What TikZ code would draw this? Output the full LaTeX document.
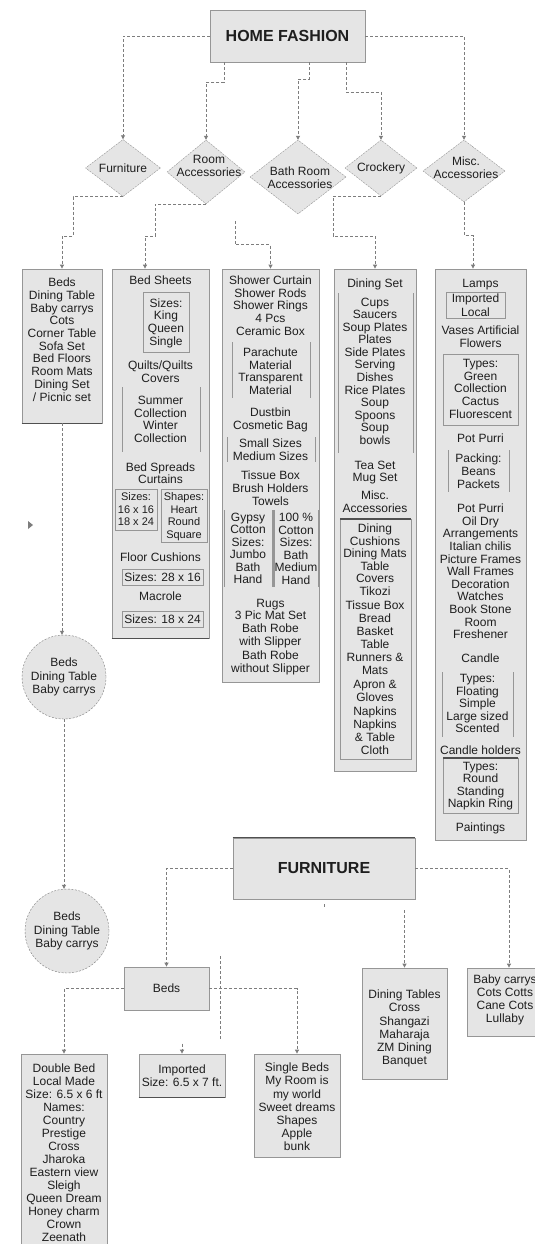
\documentclass[tikz,border=0pt]{standalone}
\usepackage{fontspec}
\setmainfont{Liberation Sans}
\usetikzlibrary{arrows.meta,calc,positioning,shapes.geometric}
\definecolor{BoxGray}{RGB}{229,229,229}
\definecolor{EdgeGray}{RGB}{150,150,150}
\definecolor{DashGray}{RGB}{125,125,125}
\definecolor{InkGray}{RGB}{30,30,30}
\definecolor{RimGray}{RGB}{80,80,80}

\begin{document}
\begin{tikzpicture}[x=1pt, y=-1pt,
    panel/.style={draw=EdgeGray, fill=BoxGray, line width=0.8pt, inner sep=0pt},
    dia/.style={diamond, draw=EdgeGray, fill=BoxGray, dash pattern=on 2pt off 1pt, inner sep=0pt},
    orb/.style={circle, draw=DashGray, fill=BoxGray, dash pattern=on 2pt off 1.5pt, inner sep=0pt, minimum size=84pt},
    ln/.style={font=\fontsize{12}{12}\selectfont, text=InkGray, text height=8.6pt, text depth=0pt, inner sep=0pt},
    lnsm/.style={ln, font=\fontsize{11}{11}\selectfont, text height=7.9pt},
    head/.style={font=\bfseries\fontsize{16}{16}\selectfont, text=InkGray, inner sep=0pt},
    blk/.style={font=\fontsize{12}{13.2}\selectfont, text=InkGray, align=center, inner sep=0pt},
    link/.style={draw=DashGray, line width=0.8pt, dash pattern=on 3pt off 2pt, -{Triangle[length=4pt,width=4pt]}},
    frame/.style={draw=EdgeGray, line width=0.7pt},
    rim/.style={draw=RimGray, line width=1.4pt}]
    \useasboundingbox (0,0) rectangle (535,1244);
    \fill[white] (0,0) rectangle (535,1244);

    % Top box and categories
    \node[panel, head, minimum width=155pt, minimum height=52pt] (home) at (287.5,36) {HOME FASHION};
    \node[dia, minimum width=75pt, minimum height=57pt] (dFurn) at (123,168) {};
    \node[dia, minimum width=78pt, minimum height=64pt] (dRoom) at (206,172) {};
    \node[dia, minimum width=96pt, minimum height=74pt] (dBath) at (298,177) {};
    \node[dia, minimum width=72pt, minimum height=56pt] (dCrock) at (381,168) {};
    \node[dia, minimum width=82pt, minimum height=62pt] (dMisc) at (464,171) {};
    \node[ln] (tFurn) at (dFurn) {Furniture};
    \node[blk, font=\fontsize{12}{13}\selectfont] (tRoom) at (209,166) {Room\\Accessories};
    \node[blk, font=\fontsize{12}{13}\selectfont] (tBath) at (300,178) {Bath Room\\Accessories};
    \node[ln] (tCrock) at (381,167) {Crockery};
    \node[blk, font=\fontsize{12}{13}\selectfont] (tMisc) at (466,168) {Misc.\\Accessories};

    \draw[link] (home.west) -| (dFurn.north);
    \draw[link] (home.east) -| (dMisc.north);
    \draw[link] ([xshift=-63.5pt]home.south) |- ([yshift=57pt]dRoom.north) -- (dRoom.north);
    \draw[link] ([xshift=21.5pt]home.south) |- ([yshift=60pt]dBath.north) -- (dBath.north);
    \draw[link] ([xshift=58.5pt]home.south) |- ([yshift=47pt]dCrock.north) -- (dCrock.north);

    % Item columns
    \node[panel, minimum width=80pt, minimum height=154pt] (colA) at (62,346) {};
    \node[panel, minimum width=97pt, minimum height=369pt] (colB) at (160.5,453.5) {};
    \node[panel, minimum width=97pt, minimum height=413pt] (colC) at (270.5,475.5) {};
    \node[panel, minimum width=82pt, minimum height=502pt] (colD) at (375,520) {};
    \node[panel, minimum width=91pt, minimum height=571pt] (colE) at (480.5,554.5) {};
    \draw[rim] (colA.south west) -- (colA.south east);
    \draw[rim] (colB.south west) -- (colB.south east);

    \draw[link] (dFurn.south) -| (73,236) -| (colA.north);
    \draw[link] (dRoom.south) -| (155,236) -| ([xshift=-15.5pt]colB.north);
    \coordinate (bathgap) at (235,221);
    \draw[link] (bathgap) |- ([yshift=24pt]colC.north) -- (colC.north);
    \draw[link] (dCrock.south) -| (333,236) -| (colD.north);
    \draw[link] (dMisc.south) |- ([xshift=-7.5pt,yshift=33pt]colE.north) -- ([xshift=-7.5pt]colE.north);

    % Furniture column
    \foreach \y/\lbl [count=\i] in {282/Beds, 295/Dining Table, 308/Baby carrys, 320/Cots,
        333/Corner Table, 346/Sofa Set, 358/Bed Floors, 371/Room Mats, 384/Dining Set, 397/{/ Picnic set}}
        \node[ln] (a\i) at (62,\y) {\lbl};

    % Room accessories column
    \draw[frame] (143,292) rectangle (189,352);
    \draw[frame] (122,387) -- (122,452) (200,387) -- (200,452);
    \draw[frame] (115,489) -- (115,530) -- (157,530) -- (157,489) -- cycle;
    \draw[frame] (161,489) rectangle (207,542);
    \draw[frame] (122,569) rectangle (203,585);
    \draw[frame] (122,611) rectangle (203,627);
    \foreach \x/\y/\lbl [count=\i] in {160.5/280/Bed Sheets, 166/303/Sizes:, 166/315/King, 166/328/Queen,
        166/341/Single, 160.5/365/{Quilts/Quilts}, 160.5/378/Covers, 160.5/400/Summer, 160.5/413/Collection,
        160.5/425/Winter, 160.5/438/Collection, 160.5/467/Bed Spreads, 160.5/479/Curtains,
        160.5/557/Floor Cushions, 162.5/577/Sizes: 28 x 16, 160.5/596/Macrole, 162.5/619/Sizes: 18 x 24}
        \node[ln] (b\i) at (\x,\y) {\lbl};
    \foreach \x/\y/\lbl [count=\i] in {136/497/Sizes:, 136/510/16 x 16, 136/522/18 x 24,
        184/497/Shapes:, 184/510/Heart, 184/522/Round, 184/535/Square}
        \node[lnsm] (bs\i) at (\x,\y) {\lbl};

    % Bath room column
    \draw[frame] (232,342) -- (232,398) (310,342) -- (310,398);
    \draw[frame] (227,437) -- (227,462) (315,437) -- (315,462);
    \draw[frame] (224,510) -- (224,587) (272,510) -- (272,587);
    \draw[frame, line width=1.2pt] (274,510) -- (274,587);
    \draw[frame] (318,510) -- (318,587);
    \foreach \x/\y/\lbl [count=\i] in {270.5/280/Shower Curtain, 270.5/293/Shower Rods, 270.5/305/Shower Rings,
        270.5/318/4 Pcs, 270.5/331/Ceramic Box, 270.5/352/Parachute, 270.5/365/Material, 270.5/377/Transparent,
        270.5/390/Material, 270.5/412/Dustbin, 270.5/425/Cosmetic Bag, 270.5/443/Small Sizes,
        270.5/456/Medium Sizes, 270.5/475/Tissue Box, 270.5/488/Brush Holders, 270.5/501/Towels,
        248/517/Gypsy, 248/529/Cotton, 248/542/Sizes:, 248/554/Jumbo, 248/567/Bath, 248/579/Hand,
        296/517/100 \%, 296/530/Cotton, 296/542/Sizes:, 296/555/Bath, 296/567/Medium, 296/580/Hand,
        270.5/603/Rugs, 270.5/615/3 Pic Mat Set, 270.5/628/Bath Robe, 270.5/641/with Slipper,
        270.5/655/Bath Robe, 270.5/668/without Slipper}
        \node[ln] (c\i) at (\x,\y) {\lbl};

    % Crockery column
    \draw[frame] (338,293) -- (338,453) (413,293) -- (413,453);
    \draw[frame] (340,519) rectangle (411,759);
    \draw[rim] (340,519) -- (411,519);
    \foreach \y/\lbl [count=\i] in {283/Dining Set, 302/Cups, 314/Saucers, 327/Soup Plates, 339/Plates,
        352/Side Plates, 364/Serving, 377/Dishes, 390/Rice Plates, 402/Soup, 415/Spoons/, 427/Soup,
        440/bowls, 465/Tea Set, 477/Mug Set, 495/Misc., 508/Accessories, 528/Dining, 541/Cushions,
        553/Dining Mats, 566/Table, 578/Covers, 591/Tikozi, 605/Tissue Box, 618/Bread, 631/Basket,
        644/Table, 657/Runners \&, 670/Mats, 684/Apron \&, 697/Gloves, 711/Napkins, 724/Napkins,
        737/\& Table, 750/Cloth}
        \node[ln] (d\i) at (375,\y) {\lbl};

    % Misc. accessories column
    \draw[frame] (446,292) rectangle (505,318);
    \draw[frame] (443,354) rectangle (518,425);
    \draw[frame] (448,450) -- (448,492) (509,450) -- (509,492);
    \draw[frame] (442,672) -- (442,737) (513,672) -- (513,737);
    \draw[frame] (443,758) rectangle (518,813);
    \draw[rim] (443,758) -- (518,758);
    \foreach \x/\y/\lbl [count=\i] in {480.5/283/Lamps, 475.5/298/Imported, 475.5/312/Local,
        480.5/330/Vases Artificial, 480.5/343/Flowers, 480.5/363/Types:, 480.5/376/Green,
        480.5/388/Collection, 480.5/401/Cactus, 480.5/414/Fluorescent, 480.5/438/Pot Purri,
        478.5/458/Packing:, 478.5/471/Beans, 478.5/484/Packets, 480.5/508/Pot Purri, 480.5/521/Oil Dry,
        480.5/533/Arrangements, 480.5/546/Italian chilis, 480.5/559/Picture Frames, 480.5/571/Wall Frames,
        480.5/584/Decoration, 480.5/596/Watches, 480.5/609/Book Stone, 480.5/622/Room,
        480.5/634/Freshener, 480.5/658/Candle, 477.5/678/Types:, 477.5/691/Floating, 477.5/703/Simple,
        477.5/716/Large sized, 477.5/728/Scented, 480.5/750/Candle holders, 480.5/766/Types:,
        480.5/778/Round, 480.5/791/Standing, 480.5/803/Napkin Ring, 480.5/827/Paintings}
        \node[ln] (e\i) at (\x,\y) {\lbl};

    % Circles under the furniture column
    \fill[DashGray] (28,521) -- (33,525) -- (28,529) -- cycle;
    \node[orb] (circ1) at (64,677) {};
    \node[blk] (tCirc1) at (circ1) {Beds\\Dining Table\\Baby carrys};
    \node[orb] (circ2) at (67,931) {};
    \node[blk] (tCirc2) at (circ2) {Beds\\Dining Table\\Baby carrys};
    \draw[link] (colA.south) -- (colA.south |- circ1.north);
    \draw[link] (circ1.south) -- (circ1.south |- circ2.north);

    % Furniture tree
    \node[panel, head, minimum width=182pt, minimum height=61pt] (furn) at (324,868.5) {FURNITURE};
    \draw[rim] (furn.north west) -- (furn.north east);
    \node[panel, ln, minimum width=85pt, minimum height=43pt] (beds) at (166.5,988.5) {Beds};
    \node[panel, minimum width=85pt, minimum height=111pt] (dining) at (404.5,1023.5) {};
    \node[blk] (tDining) at (404.5,1028.5) {Dining Tables\\Cross\\Shangazi\\Maharaja\\ZM Dining\\Banquet};
    \node[panel, minimum width=84pt, minimum height=68pt] (baby) at (509,1002) {};
    \node[blk] (tBaby) at (505,1000) {Baby carrys\\Cots Cotts\\Cane Cots\\Lullaby};
    \node[panel, minimum width=86pt, minimum height=196pt] (dbl) at (64,1152) {};
    \node[blk, font=\fontsize{12}{13}\selectfont] (tDbl) at (64,1153) {Double Bed\\Local Made\\Size: 6.5 x 6 ft\\Names:\\Country\\Prestige\\Cross\\Jharoka\\Eastern view\\Sleigh\\Queen Dream\\Honey charm\\Crown\\Zeenath};
    \node[panel, minimum width=86pt, minimum height=43pt] (imp) at (182,1075.5) {};
    \node[blk] (tImp) at (imp) {Imported\\Size: 6.5 x 7 ft.};
    \draw[rim] (imp.south west) -- (imp.south east);
    \node[panel, minimum width=86pt, minimum height=103pt] (single) at (297,1105.5) {};
    \node[blk] (tSingle) at (297,1107) {Single Beds\\My Room is\\my world\\Sweet dreams\\Shapes\\Apple\\bunk};

    \draw[link] (furn.west) -| (beds.north);
    \draw[link] (furn.east) -| (baby.north);
    \draw[link] ($(furn.south -| dining.north)+(0,-11pt)$) -- (dining.north);
    \draw[DashGray, line width=0.8pt] ($(furn.south)+(0,-5pt)$) -- ++(0,-3pt);
    \draw[link] (beds.west) -| (dbl.north);
    \draw[link] (beds.east) -| (single.north);
    \draw[link] ([yshift=10pt]imp.north) -- (imp.north);
    \coordinate (strayA) at (220,956);
    \coordinate (strayB) at (220,1040);
    \draw[link, -] (strayA) -- (strayB);
\end{tikzpicture}
\end{document}
